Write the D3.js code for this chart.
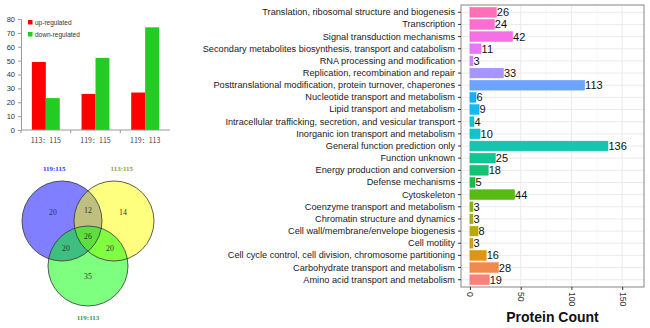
<!DOCTYPE html>
<html>
<head>
<meta charset="utf-8">
<script src="https://cdn.jsdelivr.net/npm/d3@7"></script>
<style>
  body { margin: 0; background: #fff; }
  svg { display: block; }
</style>
</head>
<body>
<div id="chart"></div>
<script>
// ---- data: left bar chart
var comparisons = ["113：115", "119：115", "119：113"];
var upRegulated = [49, 26, 27];
var downRegulated = [23, 52, 74];
var regTicks = [0, 10, 20, 30, 40, 50, 60, 70, 80];

// ---- data: venn
var vennSets = ["119:115", "113:115", "119:113"];
// regions: which sets (index) and the count
var vennRegions = [
  { sets: [0], value: 20 },
  { sets: [1], value: 14 },
  { sets: [2], value: 35 },
  { sets: [0, 1], value: 12 },
  { sets: [0, 2], value: 20 },
  { sets: [1, 2], value: 20 },
  { sets: [0, 1, 2], value: 26 }
];

// ---- data: COG categories (top to bottom)
var cogNames = [
  "Translation, ribosomal structure and biogenesis",
  "Transcription",
  "Signal transduction mechanisms",
  "Secondary metabolites biosynthesis, transport and catabolism",
  "RNA processing and modification",
  "Replication, recombination and repair",
  "Posttranslational modification, protein turnover, chaperones",
  "Nucleotide transport and metabolism",
  "Lipid transport and metabolism",
  "Intracellular trafficking, secretion, and vesicular transport",
  "Inorganic ion transport and metabolism",
  "General function prediction only",
  "Function unknown",
  "Energy production and conversion",
  "Defense mechanisms",
  "Cytoskeleton",
  "Coenzyme transport and metabolism",
  "Chromatin structure and dynamics",
  "Cell wall/membrane/envelope biogenesis",
  "Cell motility",
  "Cell cycle control, cell division, chromosome partitioning",
  "Carbohydrate transport and metabolism",
  "Amino acid transport and metabolism"
];
var cogCounts = [26, 24, 42, 11, 3, 33, 113, 6, 9, 4, 10, 136, 25, 18, 5, 44, 3, 3, 8, 3, 16, 28, 19];
var countTicks = [0, 50, 100, 150];
var countMinor = [25, 75, 125];

// ggplot-like hue colour (polar Luv, c=100, l=65)
function hueColor(h) {
  var L = 65, C = 100, hr = h * Math.PI / 180;
  var U = C * Math.cos(hr), V = C * Math.sin(hr);
  var WX = 95.047, WY = 100, WZ = 108.883;
  var un = 4 * WX / (WX + 15 * WY + 3 * WZ), vn = 9 * WY / (WX + 15 * WY + 3 * WZ);
  var Y = WY * Math.pow((L + 16) / 116, 3);
  var u = U / (13 * L) + un, v = V / (13 * L) + vn;
  var X = 9 * Y * u / (4 * v);
  var Z = -X / 3 - 5 * Y + 3 * Y / v;
  X /= 100; Y /= 100; Z /= 100;
  function g(t) {
    t = t > 0.00304 ? 1.055 * Math.pow(t, 1 / 2.4) - 0.055 : 12.92 * t;
    return Math.round(255 * Math.max(0, Math.min(1, t)));
  }
  return d3.rgb(
    g(3.240479 * X - 1.537150 * Y - 0.498535 * Z),
    g(-0.969256 * X + 1.875992 * Y + 0.041556 * Z),
    g(0.055648 * X - 0.204043 * Y + 1.057311 * Z)
  ).formatHex();
}

var svg = d3.select("#chart").append("svg")
  .attr("width", 650)
  .attr("height", 328);

// ================= left: up/down bar chart
var regData = comparisons.map(function(c, i) {
  return { comp: c, values: [
    { key: "up", value: upRegulated[i] },
    { key: "down", value: downRegulated[i] }
  ]};
});
var regColor = { up: "#ff0000", down: "#22cc22" };

var x0 = d3.scaleBand().domain(comparisons).range([21, 170]);
var x1 = d3.scaleBand().domain(["up", "down"])
  .range([0, x0.bandwidth()]).paddingOuter(0.78);
var yReg = d3.scaleLinear().domain([0, 80]).range([130, 19]);

var regG = svg.append("g");

regG.append("g")
  .attr("transform", "translate(21,0)")
  .call(d3.axisLeft(yReg).tickValues(regTicks).tickSize(3).tickPadding(3))
  .call(function(g) {
    g.selectAll("path, line").attr("stroke", "#999");
    g.selectAll("text").attr("font-family", "Liberation Sans, Arial, sans-serif")
      .attr("font-size", 7.5).attr("fill", "#333");
  });

regG.selectAll("g.grp")
  .data(regData)
  .join("g")
  .attr("class", "grp")
  .attr("transform", function(d) { return "translate(" + x0(d.comp) + ",0)"; })
  .selectAll("rect")
  .data(function(d) { return d.values; })
  .join("rect")
  .attr("x", function(d) { return x1(d.key); })
  .attr("y", function(d) { return yReg(d.value); })
  .attr("width", x1.bandwidth())
  .attr("height", function(d) { return yReg(0) - yReg(d.value); })
  .attr("fill", function(d) { return regColor[d.key]; });

var xAx = regG.append("g")
  .attr("transform", "translate(0,130)");
xAx.append("line")
  .attr("x1", 21).attr("x2", 170)
  .attr("stroke", "#999");
xAx.selectAll("line.tk")
  .data(comparisons)
  .join("line")
  .attr("class", "tk")
  .attr("x1", function(d) { return x0(d); })
  .attr("x2", function(d) { return x0(d); })
  .attr("y2", 3)
  .attr("stroke", "#999");
xAx.selectAll("text")
  .data(comparisons)
  .join("text")
  .attr("x", function(d) { return x0(d) + x0.bandwidth() / 2; })
  .attr("y", 13)
  .attr("text-anchor", "middle")
  .attr("font-family", "Noto Sans CJK SC, sans-serif")
  .attr("font-size", 7)
  .attr("fill", "#444")
  .text(function(d) { return d; });

// legend
var regLegend = regG.selectAll("g.leg")
  .data([["up", "up-regulated"], ["down", "down-regulated"]])
  .join("g")
  .attr("class", "leg")
  .attr("transform", function(d, i) { return "translate(28," + (20 + i * 12) + ")"; });
regLegend.append("rect")
  .attr("width", 4.5).attr("height", 4.5)
  .attr("fill", function(d) { return regColor[d[0]]; });
regLegend.append("text")
  .attr("x", 7).attr("y", 4.5)
  .attr("font-family", "Liberation Sans, Arial, sans-serif")
  .attr("font-size", 6.5)
  .attr("fill", "#333")
  .text(function(d) { return d[1]; });

// ================= venn
var vennColors = ["rgba(0,0,255,0.5)", "rgba(255,255,0,0.5)", "rgba(0,255,0,0.5)"];
var vennLabelColors = ["#3333ff", "#999933", "#339933"];
// layout units (radius = 1)
var vennCenters = [[-0.65, 0], [0.65, 0], [0, 1.125]];
var vx = d3.scaleLinear().domain([0, 1]).range([88, 128]);
var vy = d3.scaleLinear().domain([0, 1]).range([221, 261]);
var vr = vx(1) - vx(0);
var cAll = [d3.mean(vennCenters, function(c) { return c[0]; }),
            d3.mean(vennCenters, function(c) { return c[1]; })];

var vennG = svg.append("g");
vennG.selectAll("circle")
  .data(vennCenters)
  .join("circle")
  .attr("cx", function(c) { return vx(c[0]); })
  .attr("cy", function(c) { return vy(c[1]); })
  .attr("r", vr)
  .attr("fill", function(c, i) { return vennColors[i]; });
vennG.selectAll("circle.ol")
  .data(vennCenters)
  .join("circle")
  .attr("class", "ol")
  .attr("cx", function(c) { return vx(c[0]); })
  .attr("cy", function(c) { return vy(c[1]); })
  .attr("r", vr)
  .attr("fill", "none")
  .attr("stroke", "#333")
  .attr("stroke-width", 0.8);

function regionPos(r) {
  var m = [d3.mean(r.sets, function(i) { return vennCenters[i][0]; }),
           d3.mean(r.sets, function(i) { return vennCenters[i][1]; })];
  var dx = m[0] - cAll[0], dy = m[1] - cAll[1];
  var len = Math.sqrt(dx * dx + dy * dy);
  if (len > 1e-6) {
    m[0] += 0.26 * dx / len;
    m[1] += 0.26 * dy / len - (r.sets.length === 1 && dy < 0 ? 0.08 : 0);
  }
  return m;
}

vennG.selectAll("text.num")
  .data(vennRegions)
  .join("text")
  .attr("class", "num")
  .attr("x", function(r) { return vx(regionPos(r)[0]); })
  .attr("y", function(r) { return vy(regionPos(r)[1]); })
  .attr("dy", "0.35em")
  .attr("text-anchor", "middle")
  .attr("font-family", "Liberation Serif, serif")
  .attr("font-size", 7.8)
  .attr("fill", "#333")
  .text(function(r) { return r.value; });

vennG.selectAll("text.set")
  .data(vennSets)
  .join("text")
  .attr("class", "set")
  .attr("x", function(s, i) { return vx(cAll[0] + (vennCenters[i][0] - cAll[0]) * 1.3); })
  .attr("y", function(s, i) {
    var c = vennCenters[i];
    return vy(c[1] + (c[1] < cAll[1] ? -1.32 : 1.3));
  })
  .attr("dy", "0.35em")
  .attr("text-anchor", "middle")
  .attr("font-family", "Liberation Serif, serif")
  .attr("font-size", 7)
  .attr("font-weight", "bold")
  .attr("fill", function(s, i) { return vennLabelColors[i]; })
  .text(function(s) { return s; });

// ================= right: COG bar chart
var panel = { left: 461, right: 644, top: 5, bottom: 287 };
var xC = d3.scaleLinear().domain([-8.8, 171.5]).range([panel.left, panel.right]);
var yC = d3.scaleBand().domain(cogNames)
  .range([panel.top, panel.bottom]).paddingInner(0.2).paddingOuter(0.2);

var cogData = cogNames.map(function(n, i) {
  return { name: n, count: cogCounts[i], hue: 15 + 15 * (cogNames.length - 1 - i) };
});

var cogG = svg.append("g");

cogG.append("rect")
  .attr("x", panel.left).attr("y", panel.top)
  .attr("width", panel.right - panel.left)
  .attr("height", panel.bottom - panel.top)
  .attr("fill", "#fff");

// grid
cogG.selectAll("line.minor")
  .data(countMinor)
  .join("line")
  .attr("class", "minor")
  .attr("x1", function(d) { return xC(d); }).attr("x2", function(d) { return xC(d); })
  .attr("y1", panel.top).attr("y2", panel.bottom)
  .attr("stroke", "#f2f2f2").attr("stroke-width", 0.6);
cogG.selectAll("line.major")
  .data(countTicks)
  .join("line")
  .attr("class", "major")
  .attr("x1", function(d) { return xC(d); }).attr("x2", function(d) { return xC(d); })
  .attr("y1", panel.top).attr("y2", panel.bottom)
  .attr("stroke", "#ebebeb").attr("stroke-width", 1);
cogG.selectAll("line.hgrid")
  .data(cogNames)
  .join("line")
  .attr("class", "hgrid")
  .attr("x1", panel.left).attr("x2", panel.right)
  .attr("y1", function(d) { return yC(d) + yC.bandwidth() / 2; })
  .attr("y2", function(d) { return yC(d) + yC.bandwidth() / 2; })
  .attr("stroke", "#ebebeb").attr("stroke-width", 1);

// bars
cogG.selectAll("rect.bar")
  .data(cogData)
  .join("rect")
  .attr("class", "bar")
  .attr("x", xC(0))
  .attr("y", function(d) { return yC(d.name); })
  .attr("width", function(d) { return xC(d.count) - xC(0); })
  .attr("height", yC.bandwidth())
  .attr("fill", function(d) { return hueColor(d.hue); })
  .attr("fill-opacity", 0.92)
  .attr("stroke", function(d) { return hueColor(d.hue); })
  .attr("stroke-width", 0.5);

cogG.selectAll("text.val")
  .data(cogData)
  .join("text")
  .attr("class", "val")
  .attr("x", function(d) { return xC(d.count) + 0.5; })
  .attr("y", function(d) { return yC(d.name) + yC.bandwidth() / 2; })
  .attr("dy", "0.36em")
  .attr("font-family", "Liberation Sans, Arial, sans-serif")
  .attr("font-size", 11)
  .attr("fill", "#111")
  .text(function(d) { return d.count; });

// border
cogG.append("rect")
  .attr("x", panel.left).attr("y", panel.top)
  .attr("width", panel.right - panel.left)
  .attr("height", panel.bottom - panel.top)
  .attr("fill", "none")
  .attr("stroke", "#999")
  .attr("stroke-width", 1.2);

// y axis (categories)
cogG.append("g")
  .attr("transform", "translate(" + panel.left + ",0)")
  .call(d3.axisLeft(yC).tickSize(3).tickPadding(3))
  .call(function(g) {
    g.select(".domain").remove();
    g.selectAll("line").attr("stroke", "#333");
    g.selectAll("text")
      .attr("font-family", "Liberation Sans, Arial, sans-serif")
      .attr("font-size", 9.2)
      .attr("fill", "#1a1a1a");
  });

// x axis (counts)
cogG.append("g")
  .attr("transform", "translate(0," + panel.bottom + ")")
  .call(d3.axisBottom(xC).tickValues(countTicks).tickSize(3).tickPadding(2))
  .call(function(g) {
    g.select(".domain").remove();
    g.selectAll("line").attr("stroke", "#333");
    g.selectAll("text")
      .attr("font-family", "Liberation Sans, Arial, sans-serif")
      .attr("font-size", 8.6)
      .attr("fill", "#333")
      .attr("text-anchor", "start")
      .attr("dy", "0.35em")
      .attr("transform", "translate(0,5) rotate(90)")
      .attr("x", 0).attr("y", 0);
  });

cogG.append("text")
  .attr("x", (panel.left + panel.right) / 2)
  .attr("y", 322)
  .attr("text-anchor", "middle")
  .attr("font-family", "Liberation Sans, Arial, sans-serif")
  .attr("font-weight", "bold")
  .attr("font-size", 14)
  .attr("fill", "#111")
  .text("Protein Count");
</script>
</body>
</html>
